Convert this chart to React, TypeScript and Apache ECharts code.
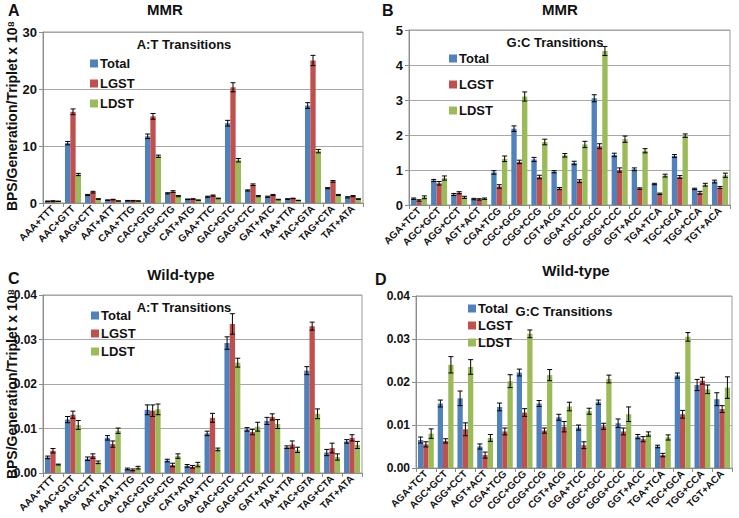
import React, { useEffect, useRef } from "react";
import * as echarts from "echarts";

const catsAT = ["AAA+TTT","AAC+GTT","AAG+CTT","AAT+ATT","CAA+TTG","CAC+GTG","CAG+CTG","CAT+ATG","GAA+TTC","GAC+GTC","GAG+CTC","GAT+ATC","TAA+TTA","TAC+GTA","TAG+CTA","TAT+ATA"];
const catsGC = ["AGA+TCT","AGC+GCT","AGG+CCT","AGT+ACT","CGA+TCG","CGC+GCG","CGG+CCG","CGT+ACG","GGA+TCC","GGC+GCC","GGG+CCC","GGT+ACC","TGA+TCA","TGC+GCA","TGG+CCA","TGT+ACA"];
const seriesNames = ["Total", "LGST", "LDST"];

// Panel A: MMR, A:T
const aTotal = [0.3,10.5,1.4,0.5,0.4,11.7,1.7,0.65,1.1,14.0,2.2,1.1,0.7,17.1,2.6,1.0];
const aLGST = [0.35,16.0,1.9,0.6,0.4,15.2,2.0,0.7,1.3,20.3,3.2,1.4,0.8,25.0,3.8,1.2];
const aLDST = [0.3,5.0,0.7,0.35,0.35,8.2,1.2,0.5,0.8,7.5,1.2,0.6,0.45,9.1,1.4,0.7];
const aTotalErr = [0.05,0.3,0.1,0.05,0.05,0.4,0.1,0.05,0.1,0.5,0.1,0.1,0.05,0.5,0.1,0.1];
const aLGSTErr = [0.05,0.5,0.15,0.05,0.05,0.5,0.15,0.05,0.1,0.8,0.15,0.1,0.05,0.9,0.15,0.1];
const aLDSTErr = [0.03,0.2,0.05,0.03,0.03,0.2,0.1,0.03,0.05,0.3,0.1,0.05,0.03,0.3,0.1,0.05];

// Panel B: MMR, G:C
const bTotal = [0.18,0.7,0.3,0.17,0.93,2.18,1.3,0.95,1.2,3.05,1.43,1.02,0.6,1.4,0.46,0.67];
const bLGST = [0.13,0.62,0.35,0.16,0.53,1.23,0.8,0.47,0.68,1.68,1.0,0.47,0.32,0.8,0.35,0.5];
const bLDST = [0.22,0.77,0.22,0.18,1.32,3.1,1.8,1.42,1.73,4.4,1.88,1.55,0.84,1.98,0.58,0.85];
const bTotalErr = [0.02,0.03,0.03,0.02,0.05,0.08,0.06,0.03,0.05,0.1,0.05,0.04,0.02,0.04,0.02,0.04];
const bLGSTErr = [0.02,0.05,0.03,0.02,0.05,0.05,0.05,0.03,0.04,0.07,0.06,0.02,0.02,0.04,0.04,0.03];
const bLDSTErr = [0.04,0.06,0.03,0.02,0.08,0.13,0.08,0.05,0.09,0.13,0.09,0.06,0.04,0.05,0.04,0.06];

// Panel C: Wild-type, A:T
const cTotal = [0.0035,0.012,0.0032,0.0079,0.0009,0.0142,0.0028,0.0016,0.0089,0.0292,0.0098,0.0117,0.0058,0.023,0.0046,0.0071];
const cLGST = [0.005,0.0131,0.0038,0.0065,0.0007,0.014,0.0018,0.0014,0.0124,0.0335,0.0092,0.0126,0.0064,0.033,0.0056,0.0079];
const cLDST = [0.0019,0.0108,0.0024,0.0095,0.0012,0.0143,0.0038,0.0019,0.0053,0.0248,0.0104,0.011,0.0052,0.0133,0.0036,0.0063];
const cTotalErr = [0.0003,0.0007,0.0004,0.0005,0.0002,0.0011,0.0003,0.0003,0.0005,0.0014,0.0004,0.0008,0.0003,0.0009,0.0007,0.0004];
const cLGSTErr = [0.0005,0.0008,0.0005,0.0007,0.0002,0.0013,0.0004,0.0003,0.001,0.0023,0.0006,0.0007,0.0008,0.0009,0.0011,0.0007];
const cLDSTErr = [0.0001,0.001,0.0003,0.0006,0.0003,0.0012,0.0005,0.0005,0.0003,0.001,0.001,0.001,0.0006,0.0011,0.0007,0.0008];

// Panel D: Wild-type, G:C
const dTotal = [0.0065,0.015,0.0162,0.005,0.0142,0.0222,0.015,0.0118,0.0094,0.0153,0.0104,0.0073,0.005,0.0215,0.0193,0.016];
const dLGST = [0.0055,0.0063,0.009,0.003,0.0085,0.0129,0.0087,0.0096,0.0053,0.0097,0.0085,0.0067,0.003,0.0125,0.0203,0.0137];
const dLDST = [0.008,0.024,0.0235,0.007,0.0202,0.0312,0.0216,0.0143,0.0132,0.0207,0.0125,0.0079,0.0071,0.0305,0.0183,0.0187];
const dTotalErr = [0.0007,0.0008,0.0017,0.0006,0.0009,0.0008,0.0007,0.0007,0.0006,0.0005,0.001,0.0005,0.0003,0.0006,0.0013,0.0015];
const dLGSTErr = [0.0006,0.0005,0.0015,0.0007,0.0008,0.0009,0.0006,0.0012,0.0008,0.0007,0.0008,0.0006,0.0004,0.0009,0.0008,0.0008];
const dLDSTErr = [0.0011,0.0019,0.0017,0.0008,0.0015,0.0009,0.0013,0.001,0.0007,0.0009,0.0017,0.0005,0.0006,0.001,0.001,0.0025];

const colors = ["#4F81BD", "#C0504D", "#9BBB59"];
const FONT = "Liberation Sans, Arial, sans-serif";

const panels = [
  { cats: catsAT, vals: [aTotal, aLGST, aLDST], errs: [aTotalErr, aLGSTErr, aLDSTErr], grid: { left: 43, top: 32, width: 320, height: 171 }, max: 30, interval: 10, dec: 0, yfs: 13,
    legend: { left: 90, top: 57, itemGap: 7 }, trans: { text: "A:T Transitions", x: 184, y: 44 } },
  { cats: catsGC, vals: [bTotal, bLGST, bLDST], errs: [bTotalErr, bLGSTErr, bLDSTErr], grid: { left: 409, top: 30, width: 321, height: 175 }, max: 5, interval: 1, dec: 0, yfs: 13,
    legend: { left: 449, top: 52, itemGap: 13 }, trans: { text: "G:C Transitions", x: 555, y: 42 } },
  { cats: catsAT, vals: [cTotal, cLGST, cLDST], errs: [cTotalErr, cLGSTErr, cLDSTErr], grid: { left: 43, top: 295, width: 319, height: 178 }, max: 0.04, interval: 0.01, dec: 2, yfs: 12,
    legend: { left: 91, top: 309, itemGap: 5 }, trans: { text: "A:T Transitions", x: 184, y: 307 } },
  { cats: catsGC, vals: [dTotal, dLGST, dLDST], errs: [dTotalErr, dLGSTErr, dLDSTErr], grid: { left: 416, top: 296, width: 316, height: 172 }, max: 0.04, interval: 0.01, dec: 2, yfs: 12,
    legend: { left: 468, top: 302, itemGap: 4 }, trans: { text: "G:C Transitions", x: 564, y: 311 } },
];

export default function App() {
  const ref = useRef<HTMLDivElement>(null);
  useEffect(() => {
    document.body.style.margin = "0";
    if (!ref.current) return;
    const chart = echarts.init(ref.current, null, { renderer: "svg" });
    const grids: any[] = [];
    const xAxes: any[] = [];
    const yAxes: any[] = [];
    const series: any[] = [];
    const legends: any[] = [];
    const graphics: any[] = [];

    panels.forEach((p, pi) => {
      grids.push({ ...p.grid, show: true, borderColor: "#9a9a9a", borderWidth: 1, backgroundColor: "transparent", containLabel: false, outerBoundsMode: "none" });
      xAxes.push({
        type: "category", gridIndex: pi, data: p.cats,
        axisLine: { lineStyle: { color: "#8c8c8c" } },
        axisTick: { show: true, length: 4, lineStyle: { color: "#8c8c8c" } },
        axisLabel: { rotate: 45, interval: 0, fontSize: 10, fontWeight: "bold", color: "#111", fontFamily: FONT, margin: 4 },
      });
      yAxes.push({
        type: "value", gridIndex: pi, min: 0, max: p.max, interval: p.interval,
        axisLine: { show: true, lineStyle: { color: "#8c8c8c" } },
        axisTick: { show: true, length: 4, lineStyle: { color: "#8c8c8c" } },
        splitLine: { lineStyle: { color: "#a8a8a8" } },
        axisLabel: { fontSize: p.yfs, fontWeight: "bold", color: "#111", fontFamily: FONT, margin: 6, formatter: (v: number) => v.toFixed(p.dec) },
      });
      for (let k = 0; k < 3; k++) {
        series.push({
          type: "bar", name: seriesNames[k], xAxisIndex: pi, yAxisIndex: pi,
          data: p.vals[k], barGap: "0%", barCategoryGap: "20%",
          itemStyle: { color: colors[k] },
        });
        const errData = p.vals[k].map((v, i) => [i, v, p.errs[k][i]]);
        series.push({
          type: "custom", name: "err" + pi + "_" + k, xAxisIndex: pi, yAxisIndex: pi,
          data: errData, z: 10,
          renderItem: (params: any, api: any) => {
            const i = api.value(0), v = api.value(1), e = api.value(2);
            const c = api.coord([i, v]);
            const bw = (api.size([1, 0])[0] * 0.8) / 3;
            const x = c[0] + (k - 1) * bw;
            const yt = api.coord([i, v + e])[1];
            const yb = api.coord([i, Math.max(v - e, 0)])[1];
            const cap = 2.5;
            const st = { stroke: "#000", lineWidth: 1 };
            return {
              type: "group",
              children: [
                { type: "line", shape: { x1: x, y1: yt, x2: x, y2: yb }, style: st },
                { type: "line", shape: { x1: x - cap, y1: yt, x2: x + cap, y2: yt }, style: st },
                { type: "line", shape: { x1: x - cap, y1: yb, x2: x + cap, y2: yb }, style: st },
              ],
            };
          },
        });
      }
      legends.push({
        data: seriesNames, orient: "vertical", left: p.legend.left, top: p.legend.top, itemGap: p.legend.itemGap,
        itemWidth: 8, itemHeight: 8, icon: "rect", padding: 0,
        textStyle: { fontSize: 13, fontWeight: "bold", color: "#111", fontFamily: FONT, padding: [0, 0, 0, -3] },
      });
      graphics.push({
        type: "text", x: p.trans.x, y: p.trans.y,
        style: { text: p.trans.text, font: "bold 13px " + FONT, fill: "#111", align: "center", verticalAlign: "middle" },
      });
    });

    const label = (t: string, x: number, y: number, size: number, align = "left") => ({
      type: "text", x, y, style: { text: t, font: "bold " + size + "px " + FONT, fill: "#111", align, verticalAlign: "middle" },
    });
    graphics.push(label("A", 8, 10, 16));
    graphics.push(label("MMR", 165, 9, 15, "center"));
    graphics.push(label("B", 382, 10, 16));
    graphics.push(label("MMR", 560, 9, 15, "center"));
    graphics.push(label("C", 8, 278, 16));
    graphics.push(label("Wild-type", 181, 274, 15, "center"));
    graphics.push(label("D", 375, 279, 16));
    graphics.push(label("Wild-type", 576, 270, 15, "center"));

    const yName = (y: number) => ({
      type: "text", x: 12, y, rotation: Math.PI / 2,
      style: {
        text: "BPS/Generation/Triplet x 10\u2078",
        font: "bold 14px " + FONT, fill: "#111", align: "center", verticalAlign: "middle",
      },
    });
    graphics.push(yName(116));
    graphics.push(yName(384));

    chart.setOption({
      animation: false,
      textStyle: { fontFamily: FONT },
      grid: grids, xAxis: xAxes, yAxis: yAxes, series, legend: legends, graphic: graphics,
    });
    return () => chart.dispose();
  }, []);
  return <div ref={ref} style={{ width: 739, height: 518 }} />;
}
